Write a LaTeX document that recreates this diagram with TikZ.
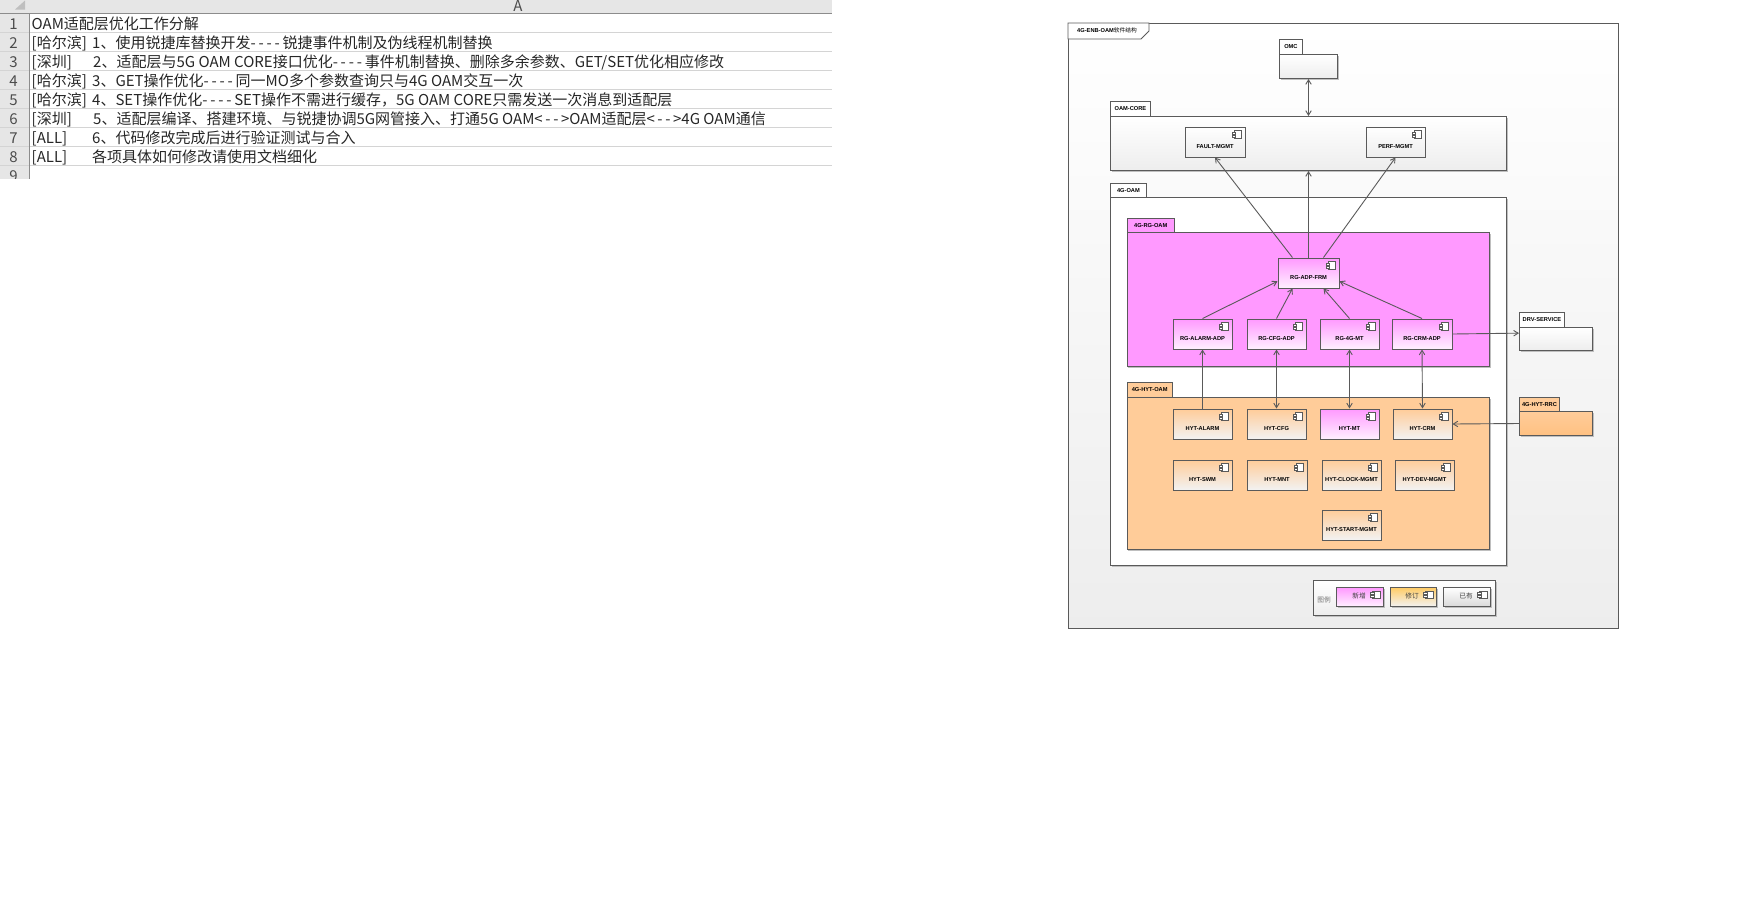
\documentclass[tikz,border=0pt]{standalone}
\usepackage{fontspec}
\setmainfont{Liberation Sans}
\newfontfamily\cjk{Noto Sans CJK SC}
\usetikzlibrary{arrows.meta,shadows}
\definecolor{rgpink}{HTML}{FF99FF}
\definecolor{hytorange}{HTML}{FFCC99}
\definecolor{fixyellow}{HTML}{FFCC66}
\definecolor{lineclr}{HTML}{5A5A5A}
\definecolor{sheetgray}{HTML}{E6E6E6}
\definecolor{gridclr}{HTML}{D4D4D4}
\newcommand{\hy}{-\kern2.8pt}
\newcommand{\hyfour}{\hy\hy\hy\hy}
\newcommand{\hyarrow}{<\kern2.5pt\hy\hy\kern-0.3pt>}
\tikzset{
  >={Straight Barb[length=4.5pt,width=5.5pt]},
  conn/.style={draw=lineclr,line width=0.9pt},
  softshadow/.style={drop shadow={shadow xshift=1pt,shadow yshift=-1pt,fill=black!25,opacity=1}},
  pkgtab/.style={draw=lineclr,line width=0.9pt,fill=white,inner sep=0pt,anchor=north west,font=\bfseries\fontsize{5.7}{6}\selectfont},
  pkgbody/.style={draw=lineclr,line width=1pt,inner sep=0pt,anchor=north west,softshadow,top color=white,bottom color=black!7},
  comp/.style={draw=lineclr,line width=1pt,inner sep=0pt,minimum width=59pt,minimum height=30pt,text height=12.4pt,text depth=0pt,font=\bfseries\fontsize{5.7}{6}\selectfont,softshadow,top color=white,bottom color=black!7},
  rgcomp/.style={comp,top color=rgpink,bottom color=rgpink!15!white},
  hytcomp/.style={comp,top color=hytorange,bottom color=black!5},
  legendcomp/.style={draw=lineclr,line width=1pt,inner sep=0pt,anchor=north west,minimum height=19pt,softshadow},
  legendtext/.style={inner sep=0pt,font=\cjk\fontsize{6.7}{8}\selectfont,text=black!75},
  rowtext/.style={anchor=base west,inner sep=0pt,font=\cjk\fontsize{15}{16}\selectfont,text=black!85},
  rownum/.style={anchor=base,inner sep=0pt,font=\cjk\fontsize{15}{16}\selectfont,text=black!70},
  compicon/.pic={
    \draw[lineclr,line width=0.7pt,fill=white] (-11.3,4.3) rectangle (-3.7,11.7);
    \draw[lineclr,line width=0.6pt,fill=white] (-13.3,5.5) rectangle (-10,7.3);
    \draw[lineclr,line width=0.6pt,fill=white] (-13.3,8.7) rectangle (-10,10.5);
  }
}
\begin{document}
\begin{tikzpicture}[x=1pt,y=-1pt]
\useasboundingbox (0,0) rectangle (1741,898);
% spreadsheet
\fill[sheetgray] (0,0) rectangle (832,13);
\fill[sheetgray] (0,13) rectangle (29,179);
\fill[black!25] (15,9.5) -- (25,9.5) -- (25,0.5) -- cycle;
\foreach \r in {1,...,8} {
  \draw[gridclr,line width=0.8pt] (0,13.3+19*\r) -- (832,13.3+19*\r);
}
\draw[black!45,line width=0.8pt] (0,13.3) -- (832,13.3);
\draw[black!45,line width=0.8pt] (29,13.3) -- (29,179);
\node[rownum] (hdrA) at (518,11.5) {A};
\foreach \r in {1,...,9} {
  \node[rownum] (num\r) at (13.5,10.3+19*\r) {\r};
}
\fill[white] (0,179) rectangle (40,190);
\node[rowtext] (row1) at (31.5,29.3) {OAM适配层优化工作分解};
\node[rowtext] (tag2) at (31.5,48.3) {[哈尔滨]};
\node[rowtext] (row2) at (92,48.3) {1、使用锐捷库替换开发\hyfour 锐捷事件机制及伪线程机制替换};
\node[rowtext] (tag3) at (31.5,67.3) {[深圳]};
\node[rowtext] (row3) at (93,67.3) {2、适配层与5G OAM CORE接口优化\hyfour 事件机制替换、删除多余参数、GET/SET优化相应修改};
\node[rowtext] (tag4) at (31.5,86.3) {[哈尔滨]};
\node[rowtext] (row4) at (92,86.3) {3、GET操作优化\hyfour 同一MO多个参数查询只与4G OAM交互一次};
\node[rowtext] (tag5) at (31.5,105.3) {[哈尔滨]};
\node[rowtext] (row5) at (92,105.3) {4、SET操作优化\hyfour SET操作不需进行缓存，5G OAM CORE只需发送一次消息到适配层};
\node[rowtext] (tag6) at (31.5,124.3) {[深圳]};
\node[rowtext] (row6) at (93,124.3) {5、适配层编译、搭建环境、与锐捷协调5G网管接入、打通5G OAM\hyarrow OAM适配层\hyarrow 4G OAM通信};
\node[rowtext] (tag7) at (31.5,143.3) {[ALL]};
\node[rowtext] (row7) at (92,143.3) {6、代码修改完成后进行验证测试与合入};
\node[rowtext] (tag8) at (31.5,162.3) {[ALL]};
\node[rowtext] (row8) at (92,162.3) {各项具体如何修改请使用文档细化};
% frame
\draw[lineclr,line width=1pt,top color=white,bottom color=black!7] (1068,23) rectangle (1618,628);
\draw[lineclr,line width=0.9pt,fill=white] (1068,23) -- (1149,23) -- (1149,31) -- (1141,39) -- (1068,39) -- cycle;
\node[anchor=west,inner sep=0pt,font=\bfseries\fontsize{5.7}{6}\selectfont] (title) at (1077,30.5) {4G-ENB-OAM{\cjk\mdseries 软件结构}};
% packages
\node[pkgtab,minimum width=23pt,minimum height=15pt] (omctab) at (1279,39) {OMC};
\node[pkgbody,minimum width=58pt,minimum height=24pt] (omc) at (1279,54) {};
\node[pkgtab,minimum width=40pt,minimum height=15pt] (coretab) at (1110,101) {OAM-CORE};
\node[pkgbody,minimum width=396pt,minimum height=54pt] (core) at (1110,116) {};
\node[pkgtab,minimum width=36pt,minimum height=14pt] (oamtab) at (1110,183) {4G-OAM};
\node[pkgbody,minimum width=396pt,minimum height=368pt,top color=white,bottom color=white] (oam) at (1110,197) {};
\node[pkgtab,minimum width=47.5pt,minimum height=14pt,fill=rgpink] (rgtab) at (1126.5,218) {4G-RG-OAM};
\node[pkgbody,minimum width=362.5pt,minimum height=134pt,top color=rgpink,bottom color=rgpink] (rg) at (1126.5,232) {};
\node[pkgtab,minimum width=45.5pt,minimum height=15pt,fill=hytorange] (hyttab) at (1126.5,382) {4G-HYT-OAM};
\node[pkgbody,minimum width=362.5pt,minimum height=152pt,top color=hytorange,bottom color=hytorange] (hyt) at (1126.5,397) {};
\node[pkgtab,minimum width=45pt,minimum height=15pt] (drvtab) at (1519,312) {DRV-SERVICE};
\node[pkgbody,minimum width=73pt,minimum height=23pt] (drv) at (1519,327) {};
\node[pkgtab,minimum width=40pt,minimum height=14pt,fill=hytorange] (rrctab) at (1519,397) {4G-HYT-RRC};
\node[pkgbody,minimum width=73pt,minimum height=24pt,top color=hytorange,bottom color=hytorange!85!orange] (rrc) at (1519,411) {};
% components
\node[comp,minimum width=60pt] (fault) at (1215,142) {FAULT-MGMT};
\node[comp] (perf) at (1395.5,142) {PERF-MGMT};
\node[rgcomp,minimum width=61pt] (rgadp) at (1308.5,273) {RG-ADP-FRM};
\node[rgcomp] (rgalarm) at (1202.5,334) {RG-ALARM-ADP};
\node[rgcomp] (rgcfg) at (1276.5,334) {RG-CFG-ADP};
\node[rgcomp] (rgmt) at (1349.5,334) {RG-4G-MT};
\node[rgcomp,minimum width=60pt] (rgcrm) at (1422,334) {RG-CRM-ADP};
\node[hytcomp] (hytalarm) at (1202.5,424) {HYT-ALARM};
\node[hytcomp] (hytcfg) at (1276.5,424) {HYT-CFG};
\node[rgcomp] (hytmt) at (1349.5,424) {HYT-MT};
\node[hytcomp] (hytcrm) at (1422.5,424) {HYT-CRM};
\node[hytcomp] (hytswm) at (1202.5,475) {HYT-SWM};
\node[hytcomp,minimum width=60pt] (hytmnt) at (1277,475) {HYT-MNT};
\node[hytcomp] (hytclock) at (1351.5,475) {HYT-CLOCK-MGMT};
\node[hytcomp] (hytdev) at (1424.5,475) {HYT-DEV-MGMT};
\node[hytcomp] (hytstart) at (1351.5,525) {HYT-START-MGMT};
% legend
\node[draw=lineclr,line width=1pt,inner sep=0pt,anchor=north west,minimum width=182pt,minimum height=35pt,softshadow,top color=white,bottom color=black!7] (legend) at (1313,580) {};
\node[legendtext,text=black!55] (legendlbl) at (1324,599.5) {图例};
\node[legendcomp,minimum width=47pt,top color=rgpink,bottom color=rgpink!15!white] (lnew) at (1336,587) {};
\node[legendcomp,minimum width=46pt,top color=fixyellow,bottom color=black!5] (lfix) at (1390,587) {};
\node[legendcomp,minimum width=47pt,top color=white,bottom color=black!15] (lold) at (1443,587) {};
\node[legendtext] (newlbl) at (1359,595.5) {新增};
\node[legendtext] (fixlbl) at (1412,595.5) {修订};
\node[legendtext] (oldlbl) at (1466,595.5) {已有};
% component icons
\foreach \c in {fault,perf,rgadp,rgalarm,rgcfg,rgmt,rgcrm,hytalarm,hytcfg,hytmt,hytcrm,hytswm,hytmnt,hytclock,hytdev,hytstart,lnew,lfix,lold} {
  \pic at (\c.north east) {compicon};
}
% connectors
\draw[conn,<->] (omc) -- (core.north -| omc);
\draw[conn,->] (rgadp.136) -- (fault.south);
\draw[conn,->] (rgadp.north) -- (core.south);
\draw[conn,->] (rgadp.46) -- (perf.south);
\draw[conn,->] (rgalarm.north) -- (rgadp.195);
\draw[conn,->] (rgcfg.north) -- (rgadp.224);
\draw[conn,->] (rgmt.north) -- (rgadp.314);
\draw[conn,->] (rgcrm.north) -- (rgadp.345);
\draw[conn,->] (hytalarm.north) -- (rgalarm.south);
\draw[conn,<->] (rgcfg.south) -- (hytcfg.north);
\draw[conn,<->] (rgmt.south) -- (hytmt.north);
\draw[conn,<->] (rgcrm.south) -- (hytcrm.north);
\draw[conn,->] (rgcrm.east) -- (drv.171);
\draw[conn,->] (rrc.west) -- (hytcrm.east);
\end{tikzpicture}
\end{document}
